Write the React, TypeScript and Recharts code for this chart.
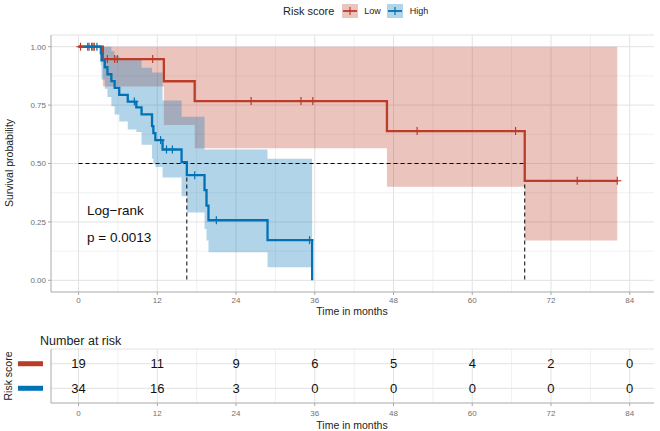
import { ComposedChart, Line, Area, Scatter, XAxis, YAxis, CartesianGrid, ReferenceLine } from "recharts";

const RED = "#BC3C29";
const BLUE = "#0072B5";

// Low risk group: step times (months), survival and 95% CI
const lowTimes = [0, 3.7, 13.0, 17.7, 47.0, 68.0, 82.1];
const lowSurv = [1, 0.947, 0.852, 0.767, 0.639, 0.426, 0.426];
const lowLower = [1, 0.83, 0.665, 0.565, 0.4, 0.17, 0.17];
const lowUpper = [1, 1, 1, 1, 1, 1, 1];
const lowCensor = [0.3, 1.6, 2.2, 2.4, 4.4, 5.5, 5.9, 11.3, 26.3, 33.9, 35.7, 51.6, 66.6, 76.0, 82.1];

// High risk group
const highTimes = [0, 3.4, 3.5, 4.0, 4.4, 5.0, 5.5, 6.2, 7.5, 8.8, 9.6, 11.2, 11.4, 11.7, 12.8, 15.7, 16.5, 19.2, 19.5, 19.8, 28.8, 35.6];
const highSurv = [1, 0.971, 0.941, 0.912, 0.882, 0.853, 0.824, 0.794, 0.765, 0.74, 0.71, 0.66, 0.63, 0.6, 0.56, 0.506, 0.45, 0.386, 0.32, 0.257, 0.172, 0];
const highLower = [1, 0.92, 0.86, 0.82, 0.785, 0.745, 0.71, 0.68, 0.645, 0.635, 0.58, 0.52, 0.5, 0.485, 0.44, 0.36, 0.29, 0.22, 0.17, 0.12, 0.056, 0.056];
const highUpper = [1, 1, 1, 1, 1, 0.98, 0.96, 0.95, 0.95, 0.95, 0.91, 0.89, 0.89, 0.89, 0.77, 0.7, 0.7, 0.56, 0.56, 0.56, 0.52, 0.52];
const highCensor = [1.4, 2.0, 2.8, 8.5, 12.5, 13.4, 14.3, 17.7, 21.0, 35.2];

// median survival (months)
const medianHigh = 16.5;
const medianLow = 68.0;

// number at risk table
const riskTimes = [0, 12, 24, 36, 48, 60, 72, 84];
const lowRisk = [19, 11, 9, 6, 5, 4, 2, 0];
const highRisk = [34, 16, 3, 0, 0, 0, 0, 0];

const xTicks = [0, 12, 24, 36, 48, 60, 72, 84];
const xMinor = [6, 18, 30, 42, 54, 66, 78];
const yTicks = [0, 0.25, 0.5, 0.75, 1];
const yMinor = [0.125, 0.375, 0.625, 0.875];

const X_DOMAIN: [number, number] = [-4.2, 87.7];

if (typeof document !== "undefined") document.body.style.margin = "0";

const survAt = (times: number[], surv: number[], t: number) => {
  let v = surv[0];
  for (let i = 0; i < times.length; i++) if (times[i] <= t) v = surv[i];
  return v;
};

const curve = (times: number[], surv: number[]) => times.map((t, i) => ({ t, s: surv[i] }));
const band = (times: number[], lo: number[], hi: number[]) => times.map((t, i) => ({ t, ci: [lo[i], hi[i]] }));
const censors = (c: number[], times: number[], surv: number[]) => c.map((t) => ({ t, s: survAt(times, surv, t) }));

const lowCurve = curve(lowTimes, lowSurv);
const highCurve = curve(highTimes, highSurv);
const lowBand = band(lowTimes, lowLower, lowUpper);
const highBand = band(highTimes, highLower, highUpper);
const lowCens = censors(lowCensor, lowTimes, lowSurv);
const highCens = censors(highCensor, highTimes, highSurv);

const medianH = [{ t: 0, s: 0.5 }, { t: medianLow, s: 0.5 }];
const medianV1 = [{ t: medianHigh, s: 0.5 }, { t: medianHigh, s: 0 }];
const medianV2 = [{ t: medianLow, s: 0.5 }, { t: medianLow, s: 0 }];

const lowRows = riskTimes.map((t, i) => ({ t, row: 1, n: lowRisk[i] }));
const highRows = riskTimes.map((t, i) => ({ t, row: 2, n: highRisk[i] }));

const FONT = "'Liberation Sans', Arial, Helvetica, sans-serif";
const tickStyle = { fontSize: 8, fill: "#707070", fontFamily: FONT };
const AXIS = "#a8a8a8";

const plus = (color: string) => (p: any) => (
  <g>
    <line x1={p.cx} x2={p.cx} y1={p.cy - 4} y2={p.cy + 4} stroke={color} strokeWidth={1.2} />
    <line x1={p.cx - 4} x2={p.cx + 4} y1={p.cy} y2={p.cy} stroke={color} strokeWidth={1.2} />
  </g>
);

const numText = (p: any) => (
  <text x={p.cx} y={p.cy} dy="0.35em" textAnchor="middle" fontSize={13} fontFamily={FONT} fill="#111">
    {p.payload.n}
  </text>
);

const rowSwatch = (p: any) => (
  <rect x={18} y={p.y - 2.5} width={25} height={5} fill={p.payload.value === 1 ? RED : BLUE} />
);

function LegendKey({ color }: { color: string }) {
  return (
    <svg width={16} height={14} style={{ verticalAlign: "middle" }}>
      <rect x={0} y={0} width={16} height={14} fill={color} fillOpacity={0.3} />
      <line x1={1} x2={15} y1={7} y2={7} stroke={color} strokeWidth={1.8} />
      <line x1={8} x2={8} y1={3} y2={11} stroke={color} strokeWidth={1.2} />
    </svg>
  );
}

export default function App() {
  return (
    <div style={{ position: "relative", width: 660, height: 431, background: "#fff", fontFamily: FONT }}>
      <div style={{ position: "absolute", left: 283, top: 2, height: 18, display: "flex", alignItems: "center", whiteSpace: "nowrap" }}>
        <span style={{ fontSize: 11, color: "#222", marginRight: 8 }}>Risk score</span>
        <LegendKey color={RED} />
        <span style={{ fontSize: 9, color: "#222", margin: "0 6px 0 6px" }}>Low</span>
        <LegendKey color={BLUE} />
        <span style={{ fontSize: 9, color: "#222", marginLeft: 7 }}>High</span>
      </div>

      <div style={{ position: "absolute", left: 0, top: 0 }}>
        <ComposedChart width={660} height={320} margin={{ top: 35, right: 6, bottom: 0, left: 0 }}>
          <CartesianGrid stroke="#f1f1f1" horizontalValues={yMinor} verticalValues={xMinor} />
          <CartesianGrid stroke="#e2e2e2" horizontalValues={yTicks} verticalValues={xTicks} />
          <XAxis dataKey="t" type="number" domain={X_DOMAIN} ticks={xTicks} allowDataOverflow tick={tickStyle} tickSize={3} stroke={AXIS} height={28} />
          <YAxis type="number" domain={[-0.05, 1.05]} ticks={yTicks} allowDataOverflow tick={tickStyle} tickSize={3} stroke={AXIS} width={51} tickFormatter={(v: number) => v.toFixed(2)} />
          <ReferenceLine y={1.05} stroke="#e2e2e2" />
          <Area data={lowBand} dataKey="ci" type="stepAfter" fill={RED} fillOpacity={0.3} stroke="none" isAnimationActive={false} />
          <Area data={highBand} dataKey="ci" type="stepAfter" fill={BLUE} fillOpacity={0.3} stroke="none" isAnimationActive={false} />
          <Line data={medianH} dataKey="s" stroke="#000" strokeDasharray="4 3" strokeWidth={1} dot={false} isAnimationActive={false} />
          <Line data={medianV1} dataKey="s" stroke="#000" strokeDasharray="4 3" strokeWidth={1} dot={false} isAnimationActive={false} />
          <Line data={medianV2} dataKey="s" stroke="#000" strokeDasharray="4 3" strokeWidth={1} dot={false} isAnimationActive={false} />
          <Line data={lowCurve} dataKey="s" type="stepAfter" stroke={RED} strokeWidth={2.3} dot={false} isAnimationActive={false} />
          <Line data={highCurve} dataKey="s" type="stepAfter" stroke={BLUE} strokeWidth={2.3} dot={false} isAnimationActive={false} />
          <Scatter data={lowCens} dataKey="s" shape={plus(RED)} isAnimationActive={false} />
          <Scatter data={highCens} dataKey="s" shape={plus(BLUE)} isAnimationActive={false} />
        </ComposedChart>
      </div>

      <div style={{ position: "absolute", left: 0, top: 330 }}>
        <ComposedChart width={660} height={100} margin={{ top: 19, right: 6, bottom: 0, left: 0 }}>
          <CartesianGrid stroke="#f1f1f1" horizontal={false} verticalValues={xMinor} />
          <CartesianGrid stroke="#e2e2e2" horizontalValues={[1, 2]} verticalValues={xTicks} />
          <XAxis dataKey="t" type="number" domain={X_DOMAIN} ticks={riskTimes} allowDataOverflow tick={tickStyle} tickSize={3} tickMargin={4} stroke={AXIS} height={27} />
          <YAxis dataKey="row" type="number" domain={[0.4, 2.6]} ticks={[1, 2]} reversed allowDataOverflow tick={rowSwatch} tickLine={false} stroke={AXIS} width={51} />
          <ReferenceLine y={0.4} stroke="#e2e2e2" />
          <Scatter data={lowRows} dataKey="row" shape={numText} isAnimationActive={false} />
          <Scatter data={highRows} dataKey="row" shape={numText} isAnimationActive={false} />
        </ComposedChart>
      </div>

      <svg width={660} height={431} style={{ position: "absolute", left: 0, top: 0, pointerEvents: "none" }} fontFamily={FONT}>
        <text x={13} y={163} transform="rotate(-90 13 163)" textAnchor="middle" fontSize={10.5} fill="#222">Survival probability</text>
        <text x={352} y={315} textAnchor="middle" fontSize={10.5} fill="#222">Time in months</text>
        <text x={87} y={215} fontSize={13.5} fill="#111">Log−rank</text>
        <text x={87} y={242} fontSize={13.5} fill="#111">p = 0.0013</text>
        <text x={40} y={345} fontSize={12.5} fill="#222">Number at risk</text>
        <text x={12} y={376} transform="rotate(-90 12 376)" textAnchor="middle" fontSize={10.5} fill="#222">Risk score</text>
        <text x={352} y={429} textAnchor="middle" fontSize={10.5} fill="#222">Time in months</text>
      </svg>
    </div>
  );
}
